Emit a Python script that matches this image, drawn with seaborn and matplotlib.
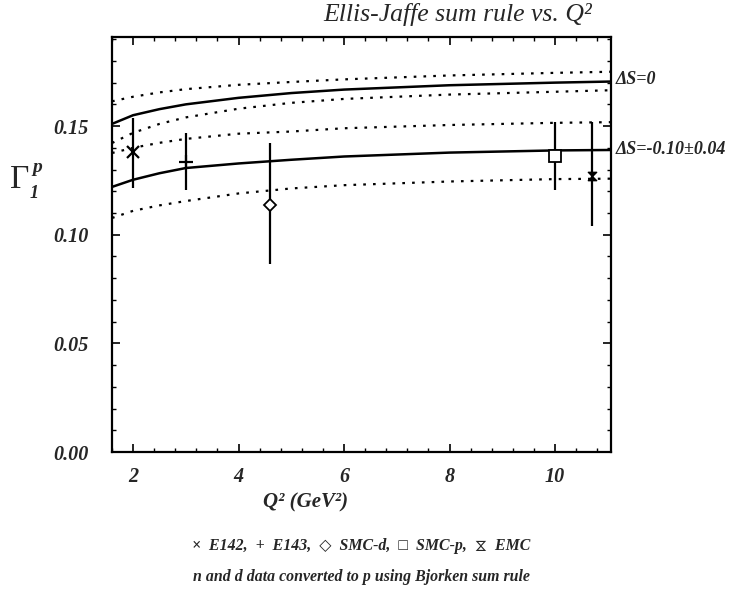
import numpy as np
import pandas as pd
import matplotlib
matplotlib.use("Agg")
import matplotlib.pyplot as plt
from matplotlib.path import Path
from matplotlib import font_manager
from matplotlib.ft2font import FT2Font
from matplotlib.ticker import MultipleLocator, FormatStrFormatter
import seaborn as sns

# Ellis-Jaffe prediction vs Q^2: central values and error bands
q2_grid = [1.6, 2.0, 2.5, 3.0, 4.0, 5.0, 6.0, 8.0, 10.0, 11.06]
ds0_central = [0.1510, 0.1550, 0.1578, 0.1600, 0.1630, 0.1652, 0.1668, 0.1688, 0.1700, 0.1705]
ds0_upper = [0.1614, 0.1635, 0.1655, 0.1670, 0.1690, 0.1703, 0.1715, 0.1733, 0.1745, 0.1750]
ds0_lower = [0.1422, 0.1469, 0.1510, 0.1540, 0.1580, 0.1607, 0.1625, 0.1645, 0.1658, 0.1665]
ds10_central = [0.1220, 0.1253, 0.1283, 0.1307, 0.1328, 0.1345, 0.1360, 0.1378, 0.1388, 0.1390]
ds10_upper = [0.1376, 0.1400, 0.1423, 0.1441, 0.1465, 0.1475, 0.1490, 0.1505, 0.1515, 0.1518]
ds10_lower = [0.1077, 0.1110, 0.1135, 0.1155, 0.1190, 0.1213, 0.1228, 0.1245, 0.1256, 0.1258]

# Measurements of Gamma_1^p
experiments = ["E142", "E143", "SMC-d", "SMC-p", "EMC"]
q2_pts = [2.0, 3.0, 4.6, 10.0, 10.7]
gamma1p = [0.1379, 0.1335, 0.1138, 0.1362, 0.1272]
err_lo = [0.0164, 0.0131, 0.0272, 0.0155, 0.0234]
err_hi = [0.0159, 0.0134, 0.0284, 0.0156, 0.0246]

x_ticks = [2, 4, 6, 8, 10]
y_ticks = [0.00, 0.05, 0.10, 0.15]

sns.set_theme(style="ticks")
base_families = ["Liberation Serif", "DejaVu Serif", "DejaVu Sans"]
plt.rcParams["font.family"] = base_families


def family_with_glyph(char, candidates):
    """First installed family whose bold-italic face has a glyph for char."""
    for fam in candidates:
        fp = font_manager.FontProperties(family=fam, weight="bold", style="italic")
        try:
            path = font_manager.findfont(fp, fallback_to_default=False)
            if FT2Font(path).get_char_index(ord(char)):
                return fam
        except Exception:
            continue
    return None


hourglass_char = "⧖"
symbol_candidates = ["DejaVu Sans", "DejaVu Serif", "DejaVu Sans Mono", "Noto Sans",
                     "Noto Sans Math", "Noto Sans Symbols", "Noto Sans Symbols2",
                     "Noto Sans CJK JP", "Noto Sans CJK SC", "Liberation Sans"]
sym_fam = family_with_glyph(hourglass_char, symbol_candidates)
legend_families = base_families + ([sym_fam] if sym_fam and sym_fam not in base_families else [])
if sym_fam in base_families:
    legend_families = ["Liberation Serif", sym_fam] + [f for f in base_families if f not in ("Liberation Serif", sym_fam)]

curves = pd.DataFrame({
    "Q2": q2_grid * 6,
    "G1": ds0_central + ds0_upper + ds0_lower + ds10_central + ds10_upper + ds10_lower,
    "curve": (["ds0_c"] * len(q2_grid) + ["ds0_u"] * len(q2_grid) + ["ds0_l"] * len(q2_grid)
              + ["ds10_c"] * len(q2_grid) + ["ds10_u"] * len(q2_grid) + ["ds10_l"] * len(q2_grid)),
})

fig = plt.figure(figsize=(7.34, 5.89), dpi=100)
ax = fig.add_axes([112 / 734, 1 - 452 / 589, 499 / 734, 415 / 589])

dotted = (0, (1.2, 3.2))
styles = {"ds0_c": "-", "ds0_u": dotted, "ds0_l": dotted,
          "ds10_c": "-", "ds10_u": dotted, "ds10_l": dotted}
for name, sub in curves.groupby("curve", sort=False):
    sns.lineplot(data=sub, x="Q2", y="G1", ax=ax, color="black",
                 lw=1.8 if styles[name] == "-" else 1.6,
                 linestyle=styles[name], estimator=None, legend=False)

hourglass = Path([(-1, 1), (1, 1), (0, 0), (1, -1), (-1, -1), (0, 0), (-1, 1)],
                 [Path.MOVETO] + [Path.LINETO] * 5 + [Path.CLOSEPOLY])
marker_spec = {
    "E142": dict(marker="x", ms=9, mew=1.6, mfc="black"),
    "E143": dict(marker="+", ms=10, mew=1.6, mfc="black"),
    "SMC-d": dict(marker="D", ms=6, mew=1.3, mfc="white"),
    "SMC-p": dict(marker="s", ms=8, mew=1.3, mfc="white"),
    "EMC": dict(marker=hourglass, ms=6, mew=1.0, mfc="black"),
}
for name, q, g, lo, hi in zip(experiments, q2_pts, gamma1p, err_lo, err_hi):
    ax.errorbar([q], [g], yerr=[[lo], [hi]], fmt="none", ecolor="black",
                elinewidth=1.6, capsize=0, zorder=3)
    ax.plot([q], [g], linestyle="none", color="black", mec="black", zorder=4,
            **marker_spec[name])

ax.set_xlim(1.6, 11.06)
ax.set_ylim(0, 0.191)
ax.set_xlabel("")
ax.set_ylabel("")
ax.set_xticks(x_ticks)
ax.set_yticks(y_ticks)
ax.xaxis.set_minor_locator(MultipleLocator(0.4))
ax.yaxis.set_minor_locator(MultipleLocator(0.01))
ax.yaxis.set_major_formatter(FormatStrFormatter("%.2f"))
ax.tick_params(which="both", direction="in", top=True, right=True, color="black", width=1.2)
ax.tick_params(which="major", length=6)
ax.tick_params(which="minor", length=3, width=1.0)
ax.tick_params(axis="y", which="major", pad=17)
ax.tick_params(axis="x", which="major", pad=11)
for lab in ax.get_xticklabels() + ax.get_yticklabels():
    lab.set_fontsize(14.5)
    lab.set_fontweight("bold")
    lab.set_fontstyle("italic")
for sp in ax.spines.values():
    sp.set_linewidth(1.6)
    sp.set_color("black")

bi = dict(fontweight="bold", fontstyle="italic")
fig.text(458 / 734, 1 - 14 / 589, "Ellis-Jaffe sum rule vs. Q²", ha="center", va="center",
         fontsize=18.5, fontstyle="italic")
fig.text(306 / 734, 1 - 502 / 589, "Q² (GeV²)", ha="center", va="center",
         fontsize=15, **bi)

# y-axis symbol: Gamma with italic subscript 1 and superscript p
fig.text(20 / 734, 1 - 180 / 589, "Γ", ha="center", va="center", fontsize=24)
fig.text(37 / 734, 1 - 167 / 589, "p", ha="center", va="center", fontsize=14, **bi)
fig.text(34 / 734, 1 - 193 / 589, "1", ha="center", va="center", fontsize=13, **bi)

ax.text(1.01, ds0_central[-1] + 0.001, "ΔS=0", transform=ax.get_yaxis_transform(),
        ha="left", va="center", fontsize=13, **bi)
ax.text(1.01, ds10_central[-1], "ΔS=-0.10±0.04", transform=ax.get_yaxis_transform(),
        ha="left", va="center", fontsize=13, **bi)

fig.text(361 / 734, 1 - 546 / 589,
         f"×  E142,  +  E143,  ◇  SMC-d,  □  SMC-p,  {hourglass_char}  EMC",
         ha="center", va="center", fontsize=11.4, family=legend_families, **bi)
fig.text(361 / 734, 1 - 577 / 589, "n and d data converted to p using Bjorken sum rule",
         ha="center", va="center", fontsize=11.4, **bi)

fig.savefig("out.png", dpi=100)
